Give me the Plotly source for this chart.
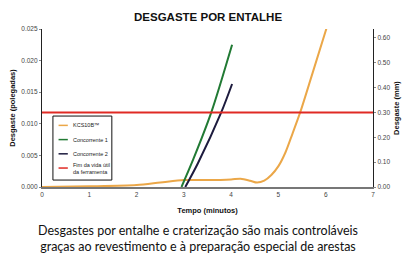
import plotly.graph_objects as go

# Data (time in minutes, wear in inches)
kcs_x = [0, 1, 2, 2.5, 3, 3.5, 4, 4.2, 4.4, 4.55, 4.7, 4.85, 5.0, 5.15, 5.3, 5.46, 5.7, 6.02]
kcs_y = [0.0, 0.0001, 0.0003, 0.0007, 0.0011, 0.0011, 0.0012, 0.0013, 0.0010, 0.0007, 0.0010, 0.0019, 0.0033, 0.0055, 0.0085, 0.0118, 0.0175, 0.0252]
c1_x = [2.95, 3.2, 3.58, 4.02]
c1_y = [0.0, 0.0044, 0.0118, 0.0225]
c2_x = [3.03, 3.3, 3.79, 4.02]
c2_y = [0.0, 0.0038, 0.0118, 0.0163]
life_x = [0, 7]
life_y = [0.0118, 0.0118]

names = ["KCS10B™", "Concorrente 1", "Concorrente 2", "Fim da vida útil<br>da ferramenta"]
colors = ["#EBA748", "#217A34", "#1D1B3E", "#E02A24"]

xticks = [0, 1, 2, 3, 4, 5, 6, 7]
yticks_in = [0.0, 0.005, 0.010, 0.015, 0.020, 0.025]
yticks_mm = [0.0, 0.1, 0.2, 0.3, 0.4, 0.5, 0.6]

FONT = "Liberation Sans, Arial, sans-serif"

fig = go.Figure()
series = [(kcs_x, kcs_y), (c1_x, c1_y), (c2_x, c2_y), (life_x, life_y)]
for (xs, ys), n, c in zip(series, names, colors):
    fig.add_trace(go.Scatter(x=xs, y=ys, mode="lines", name=n, showlegend=False,
                             line=dict(color=c, width=2, shape="spline", smoothing=0.8)))
# invisible trace for the right axis
fig.add_trace(go.Scatter(x=[0], y=[0], yaxis="y2", mode="lines",
                         line=dict(width=0), showlegend=False, hoverinfo="skip"))

# Manual compact legend (layout decoration)
shapes = [dict(type="rect", xref="paper", yref="paper", x0=0.033, x1=0.211, y0=0.044, y1=0.449,
               line=dict(color="#111", width=1), fillcolor="white", layer="above")]
annotations = []
leg_y = [0.39, 0.30, 0.21, 0.12]
for yy, n, c in zip(leg_y, names, colors):
    shapes.append(dict(type="line", xref="paper", yref="paper", x0=0.05, x1=0.078, y0=yy, y1=yy,
                       line=dict(color=c, width=1.5), layer="above"))
    annotations.append(dict(text=n, xref="paper", yref="paper", x=0.088, y=yy, xanchor="left",
                            yanchor="middle", align="left", showarrow=False,
                            font=dict(family=FONT, size=5.5, color="#222")))

annotations.append(dict(text="Desgastes por entalhe e craterização são mais controláveis<br>graças ao revestimento e à preparação especial de arestas",
                        xref="paper", yref="paper", x=0.47, y=-0.215, xanchor="center", yanchor="top",
                        showarrow=False, font=dict(family="Lato, sans-serif", size=12.5, color="#111")))

tickfont = dict(family=FONT, size=6.5, color="#444")
titlefont = dict(family=FONT, size=7.5, color="#111")
fig.update_layout(
    width=412, height=258,
    margin=dict(l=40, r=36, t=29, b=71),
    paper_bgcolor="white", plot_bgcolor="white",
    title=dict(text="<b>DESGASTE POR ENTALHE</b>", x=0.505, xanchor="center", y=0.935, yanchor="middle",
               font=dict(family=FONT, size=11.5, color="#111")),
    xaxis=dict(range=[0, 7], tickvals=xticks, showgrid=False, zeroline=False,
               showline=True, linecolor="#777", linewidth=1.5, ticks="", tickfont=tickfont,
               title=dict(text="<b>Tempo (minutos)</b>", standoff=11, font=titlefont)),
    yaxis=dict(range=[0, 0.025], tickvals=yticks_in, tickformat=".3f", showgrid=False, zeroline=False,
               showline=True, linecolor="#222", linewidth=1.2, ticks="outside", ticklen=2, tickcolor="#888",
               tickfont=tickfont,
               title=dict(text="<b>Desgaste (polegadas)</b>", standoff=4, font=titlefont)),
    yaxis2=dict(range=[0, 0.635], tickvals=yticks_mm, tickformat=".2f", overlaying="y", side="right",
                showgrid=False, zeroline=False, showline=True, linecolor="#222", linewidth=1.2,
                ticks="outside", ticklen=2, tickcolor="#888", tickfont=tickfont,
                title=dict(text="<b>Desgaste (mm)</b>", standoff=4, font=titlefont)),
    showlegend=False,
    shapes=shapes,
    annotations=annotations,
)
fig.write_html("out.html")
